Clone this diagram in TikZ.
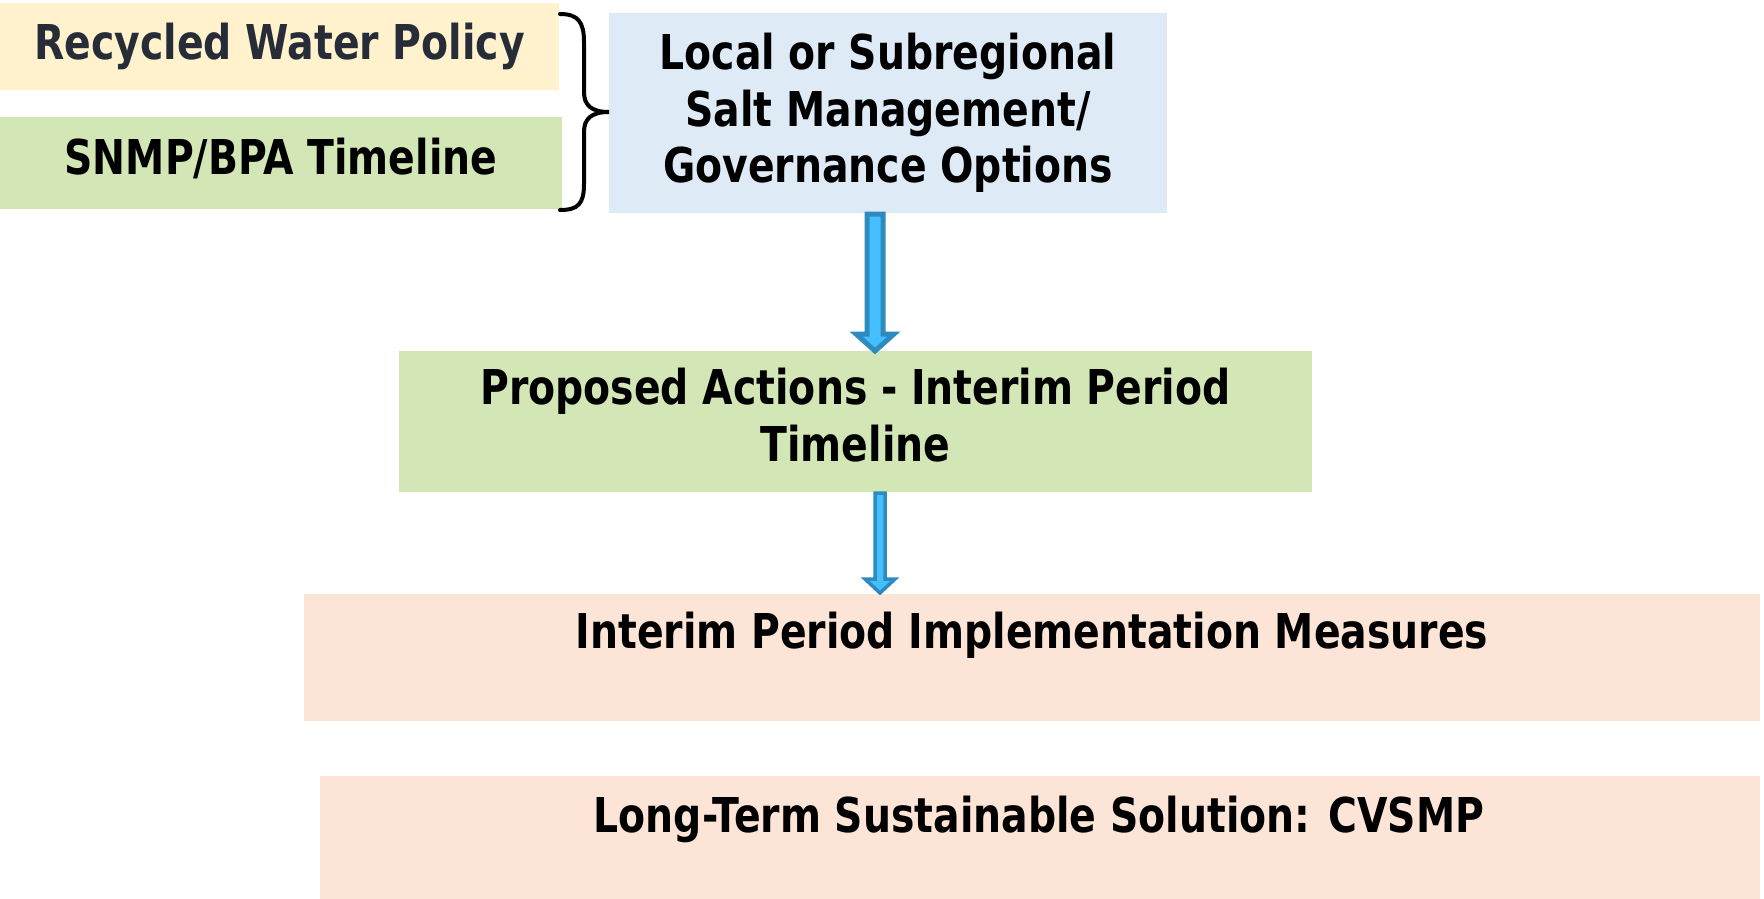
\documentclass[tikz,border=0pt]{standalone}
\usepackage{fontspec}
\setmainfont{DejaVu Sans}[FakeStretch=0.82]
\usetikzlibrary{calc}
\definecolor{ylw}{RGB}{255,242,204}
\definecolor{grn}{RGB}{211,231,182}
\definecolor{blu}{RGB}{222,235,247}
\definecolor{pch}{RGB}{252,228,214}
\definecolor{arrfill}{RGB}{69,191,255}
\definecolor{arrline}{RGB}{46,139,192}
\definecolor{slate}{RGB}{38,45,56}
\newcommand\blockarr[6]{%
  \filldraw[draw=arrline, fill=arrfill, line width=#6, line join=miter]
  let \p1=(#1), \p2=(#2) in
  ({\x1-#3},\y1) -- ({\x1+#3},\y1) -- ({\x1+#3},{\y2+#5}) -- ({\x1+#4},{\y2+#5})
  -- (\x1,\y2) -- ({\x1-#4},{\y2+#5}) -- ({\x1-#3},{\y2+#5}) -- cycle;}
\begin{document}
\begin{tikzpicture}[x=1pt,y=-1pt,
  box/.style={draw=none, inner sep=0pt, outer sep=0pt, anchor=north west,
    font=\fontsize{48}{56.6}\selectfont\bfseries, align=center},
  txt/.style={inner sep=0pt, font=\fontsize{48}{56.6}\selectfont\bfseries}]
\useasboundingbox (0,0) rectangle (1764,899);
\node[box, fill=ylw, minimum width=559pt, minimum height=87pt, text=slate] (rwp) at (0,3) {Recycled Water Policy};
\node[box, fill=grn, minimum width=562pt, minimum height=92pt] (snmp) at (0,117) {\raisebox{14pt}{SNMP/BPA Timeline}};
\node[box, fill=blu, minimum width=558pt, minimum height=200pt] (blu) at (609,13) {Local or Subregional\\Salt Management/\\Governance Options};
\node[box, fill=grn, minimum width=913pt, minimum height=141pt] (grn) at (399,351) {\raisebox{5pt}{\begin{tabular}{@{}c@{}}Proposed Actions - Interim Period\\Timeline\end{tabular}}};
\node[box, fill=pch, minimum width=1456pt, minimum height=127pt] (pc1) at (304,594) {};
\node[box, fill=pch, minimum width=1440pt, minimum height=123pt] (pc2) at (320,776) {};
\node[txt, anchor=base] (t1) at (1032,648) {Interim Period Implementation Measures};
\node[txt, anchor=base] (t2) at (1039,832) {Long-Term Sustainable Solution: CVSMP};
% brace
\draw[line width=4pt, line cap=round] (560,14) .. controls (578,14) and (584,22) .. (584,42)
  -- (584,92) .. controls (584,105) and (591,112) .. (609,112)
  .. controls (591,112) and (584,119) .. (584,132)
  -- (584,184) .. controls (584,204) and (578,210) .. (560,210);
% arrows
\coordinate (a1) at (875,0);
\coordinate (a2) at (880,0);
\blockarr{$(a1 |- blu.south)+(0,1)$}{$(a1 |- grn.north)$}{8pt}{19pt}{17pt}{5pt}
\blockarr{$(a2 |- grn.south)+(0,1)$}{$(a2 |- pc1.north)+(0,-1)$}{5pt}{15pt}{14pt}{3.5pt}
\end{tikzpicture}
\end{document}
